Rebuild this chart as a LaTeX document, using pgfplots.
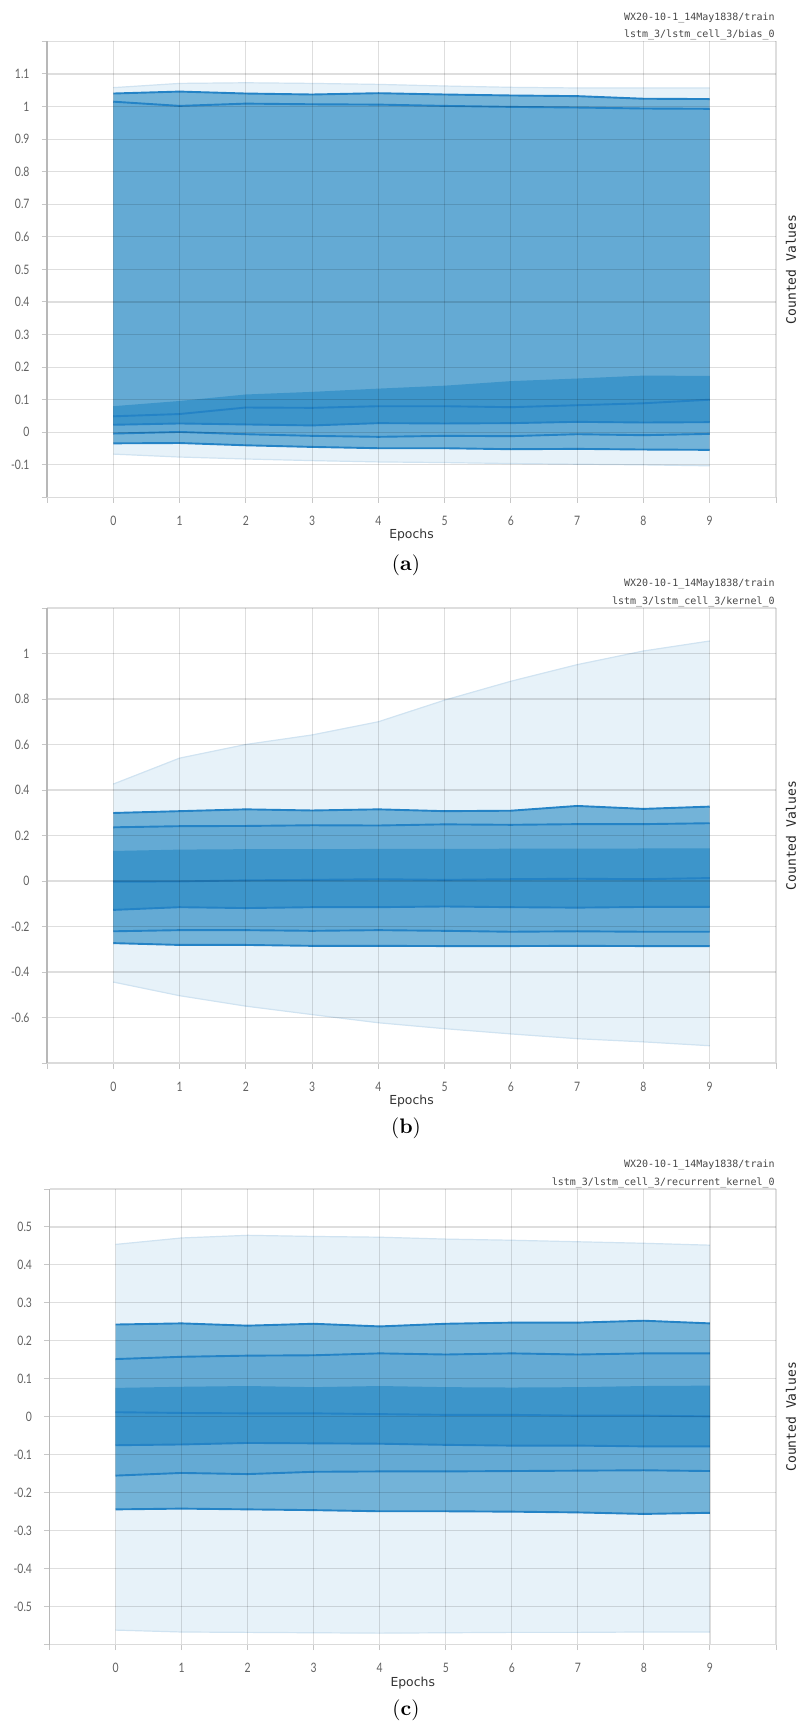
\documentclass[border=0pt]{standalone}
\usepackage{pgfplots}
\pgfplotsset{compat=1.18}
\usepackage{pgfplotstable}
\usepgfplotslibrary{fillbetween}
\usepackage{fontspec}
\newfontfamily\tickfont[FakeStretch=0.8]{Lato}
\newfontfamily\monofont{DejaVu Sans Mono}
\newfontfamily\labfont{DejaVu Sans}

\definecolor{bandA}{RGB}{231,242,249}
\definecolor{bandB}{RGB}{115,179,216}
\definecolor{bandC}{RGB}{100,170,212}
\definecolor{bandD}{RGB}{61,149,202}
\definecolor{lineC}{RGB}{36,131,198}
\definecolor{edgeC}{RGB}{208,227,241}

\pgfplotstableread{
x p0 p7 p16 p31 p50 p69 p84 p93 p100
0 -0.067 -0.034 -0.004 0.023 0.049 0.080 1.015 1.040 1.058
1 -0.076 -0.033 0.001 0.027 0.056 0.096 1.002 1.046 1.071
2 -0.082 -0.040 -0.006 0.024 0.076 0.116 1.009 1.040 1.073
3 -0.087 -0.045 -0.011 0.021 0.075 0.124 1.007 1.037 1.071
4 -0.091 -0.049 -0.014 0.028 0.080 0.134 1.006 1.041 1.068
5 -0.093 -0.049 -0.011 0.027 0.080 0.143 1.002 1.037 1.063
6 -0.096 -0.052 -0.012 0.028 0.077 0.157 0.999 1.034 1.059
7 -0.098 -0.051 -0.006 0.032 0.083 0.165 0.997 1.032 1.057
8 -0.100 -0.053 -0.009 0.030 0.089 0.174 0.994 1.024 1.057
9 -0.103 -0.054 -0.005 0.031 0.100 0.173 0.993 1.023 1.057
}\tabA

\pgfplotstableread{
x p0 p7 p16 p31 p50 p69 p84 p93 p100
0 -0.444 -0.273 -0.221 -0.127 -0.003 0.132 0.236 0.299 0.426
1 -0.504 -0.281 -0.216 -0.115 -0.002 0.138 0.241 0.307 0.540
2 -0.550 -0.281 -0.216 -0.119 0.003 0.140 0.242 0.315 0.600
3 -0.587 -0.285 -0.219 -0.115 0.005 0.140 0.245 0.310 0.642
4 -0.623 -0.285 -0.216 -0.115 0.008 0.141 0.244 0.315 0.700
5 -0.649 -0.286 -0.219 -0.112 0.005 0.141 0.249 0.307 0.795
6 -0.672 -0.286 -0.223 -0.115 0.008 0.142 0.247 0.309 0.878
7 -0.693 -0.285 -0.221 -0.117 0.010 0.142 0.250 0.330 0.951
8 -0.707 -0.286 -0.223 -0.114 0.008 0.143 0.250 0.317 1.011
9 -0.724 -0.286 -0.223 -0.114 0.013 0.143 0.254 0.327 1.055
}\tabB

\pgfplotstableread{
x p0 p7 p16 p31 p50 p69 p84 p93 p100
0 -0.562 -0.244 -0.155 -0.075 0.012 0.076 0.152 0.243 0.454
1 -0.567 -0.242 -0.148 -0.073 0.010 0.079 0.158 0.246 0.471
2 -0.568 -0.244 -0.151 -0.069 0.009 0.081 0.161 0.240 0.478
3 -0.569 -0.246 -0.145 -0.070 0.009 0.078 0.162 0.245 0.475
4 -0.570 -0.249 -0.144 -0.071 0.007 0.081 0.167 0.238 0.473
5 -0.569 -0.249 -0.144 -0.074 0.005 0.078 0.164 0.245 0.468
6 -0.568 -0.250 -0.143 -0.076 0.005 0.077 0.167 0.248 0.465
7 -0.568 -0.252 -0.142 -0.076 0.003 0.078 0.164 0.248 0.461
8 -0.567 -0.256 -0.141 -0.078 0.003 0.081 0.167 0.253 0.457
9 -0.567 -0.253 -0.143 -0.078 0.001 0.082 0.167 0.246 0.452
}\tabC

\pgfplotsset{
  tb/.style={
    scale only axis, width=364.5pt,
    xmin=-1, xmax=10,
    xtick={-1,0,1,2,3,4,5,6,7,8,9,10},
    xticklabels={,0,1,2,3,4,5,6,7,8,9,},
    axis lines*=left,
    x axis line style={-, draw=black!14, line width=0.9pt},
    y axis line style={-, draw=black!28, line width=0.7pt},
    tick align=outside, major tick length=2.75pt,
    tick style={draw=black!22, line width=0.5pt},
    grid=major,
    major grid style={draw=black, draw opacity=0.13, line width=0.55pt},
    axis on top,
    ticklabel style={font=\tickfont\fontsize{6.5}{7}\selectfont, text=black!62, inner sep=0pt},
    xticklabel style={anchor=north, yshift=-6.5pt},
    yticklabel style={anchor=east, xshift=-5.8pt},
  },
  hid/.style={draw=none, forget plot},
  dl/.style={draw=lineC, line width=0.95pt, forget plot},
  el/.style={draw=edgeC, line width=0.6pt, forget plot},
}

\newcommand{\drawpanel}[2]{%
  \addplot[hid, name path=#2p0] table[x=x,y=p0]{#1};
  \addplot[hid, name path=#2p7] table[x=x,y=p7]{#1};
  \addplot[hid, name path=#2p16] table[x=x,y=p16]{#1};
  \addplot[hid, name path=#2p31] table[x=x,y=p31]{#1};
  \addplot[hid, name path=#2p69] table[x=x,y=p69]{#1};
  \addplot[hid, name path=#2p84] table[x=x,y=p84]{#1};
  \addplot[hid, name path=#2p93] table[x=x,y=p93]{#1};
  \addplot[hid, name path=#2p100] table[x=x,y=p100]{#1};
  \addplot[fill=bandA, draw=none, forget plot] fill between[of=#2p100 and #2p0];
  \addplot[fill=bandB, draw=none, forget plot] fill between[of=#2p93 and #2p7];
  \addplot[fill=bandC, draw=none, forget plot] fill between[of=#2p84 and #2p16];
  \addplot[fill=bandD, draw=none, forget plot] fill between[of=#2p69 and #2p31];
  \addplot[el] table[x=x,y=p0]{#1};
  \addplot[el] table[x=x,y=p100]{#1};
  \addplot[dl] table[x=x,y=p7]{#1};
  \addplot[dl] table[x=x,y=p16]{#1};
  \addplot[dl] table[x=x,y=p31]{#1};
  \addplot[dl] table[x=x,y=p50]{#1};
  \addplot[dl] table[x=x,y=p84]{#1};
  \addplot[dl] table[x=x,y=p93]{#1};
}

\newcommand{\decor}[3]{%
  \node[inner sep=0pt, anchor=base east, font=\monofont\fontsize{5}{6}\selectfont, text=black!72] at ([xshift=-0.5pt,yshift=10.7pt]#1.north east) {WX20-10-1\_14May1838/train};
  \node[inner sep=0pt, anchor=base east, font=\monofont\fontsize{5}{6}\selectfont, text=black!72] at ([xshift=-0.5pt,yshift=1.9pt]#1.north east) {#2};
  \node[inner sep=0pt, rotate=90, anchor=center, font=\monofont\fontsize{6.5}{7}\selectfont, text=black!85] at ([xshift=7.5pt]#1.east) {Counted Values};
  \node[inner sep=0pt, anchor=base, font=\labfont\fontsize{6.2}{7}\selectfont, text=black!80] at ([yshift=-20.75pt]#1.south) {Epochs};
}

\begin{document}
\begin{tikzpicture}

\begin{axis}[tb, name=pa, at={(23.5pt,-20.7pt)}, anchor=north west, height=228pt,
  ymin=-0.2, ymax=1.2,
  ytick={-0.2,-0.1,0,0.1,0.2,0.3,0.4,0.5,0.6,0.7,0.8,0.9,1,1.1,1.2},
  yticklabels={,-0.1,0,0.1,0.2,0.3,0.4,0.5,0.6,0.7,0.8,0.9,1,1.1,}]
\drawpanel{\tabA}{a}
\end{axis}
\decor{pa}{lstm\_3/lstm\_cell\_3/bias\_0}{}
\node[inner sep=0pt, font=\fontsize{10.5}{12}\selectfont] at (203pt,-282.5pt) {(\textbf{a})};

\begin{axis}[tb, name=pb, at={(23.5pt,-304pt)}, anchor=north west, height=227.5pt,
  ymin=-0.8, ymax=1.2,
  ytick={-0.8,-0.6,-0.4,-0.2,0,0.2,0.4,0.6,0.8,1,1.2},
  yticklabels={,-0.6,-0.4,-0.2,0,0.2,0.4,0.6,0.8,1,}]
\drawpanel{\tabB}{b}
\end{axis}
\decor{pb}{lstm\_3/lstm\_cell\_3/kernel\_0}{}
\node[inner sep=0pt, font=\fontsize{10.5}{12}\selectfont] at (203pt,-564pt) {(\textbf{b})};

\begin{axis}[tb, name=pc, at={(24.75pt,-594.5pt)}, anchor=north west, width=363.25pt, height=227.75pt,
  ymin=-0.6, ymax=0.6,
  ytick={-0.6,-0.5,-0.4,-0.3,-0.2,-0.1,0,0.1,0.2,0.3,0.4,0.5,0.6},
  yticklabels={,-0.5,-0.4,-0.3,-0.2,-0.1,0,0.1,0.2,0.3,0.4,0.5,}]
\drawpanel{\tabC}{c}
\end{axis}
\decor{pc}{lstm\_3/lstm\_cell\_3/recurrent\_kernel\_0}{}
\node[inner sep=0pt, font=\fontsize{10.5}{12}\selectfont] at (203pt,-855pt) {(\textbf{c})};

\pgfresetboundingbox
\useasboundingbox (0,0) rectangle (399.5pt,-863pt);
\end{tikzpicture}
\end{document}
